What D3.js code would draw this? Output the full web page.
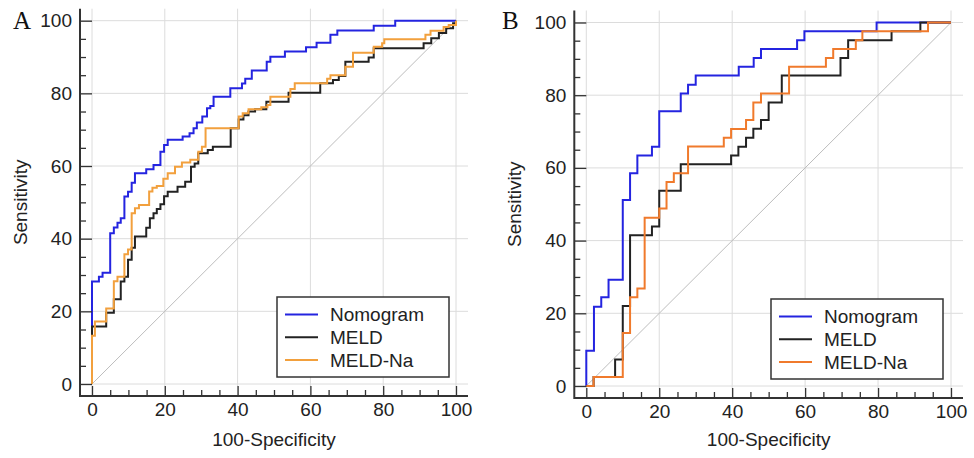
<!DOCTYPE html>
<html>
<head>
<meta charset="utf-8">
<script src="https://cdn.jsdelivr.net/npm/d3@7"></script>
<style>
  body { margin: 0; background: #fff; }
  text { font-family: "Liberation Sans", Arial, sans-serif; fill: #222; }
  text.panel-letter { font-family: "Liberation Serif", "Times New Roman", serif; fill: #111; }
</style>
</head>
<body>
<div id="chart"></div>
<script>
// ROC curves (x = 100-Specificity, y = Sensitivity)
const seriesNames = ["Nomogram", "MELD", "MELD-Na"]
const majorTicks = [0, 20, 40, 60, 80, 100]

// panel A
const aNomoFpr = [0,0,1.9,2.9,5.0,6.0,7.0,7.9,8.9,9.9,10.9,11.8,14.9,16.9,18.8,19.8,20.8,24.9,26.8,27.9,28.8,30.3,31.6,32.5,33.4,38.0,41.2,42.1,43.9,48.0,49.0,53.0,58.8,61.7,65.5,67.4,77.4,83.3,100]
const aNomoTpr = [0,28.2,29.5,30.6,41.5,43.1,44.4,45.6,51.6,52.9,55.4,58.0,59.1,60.3,63.9,65.8,67.2,68.1,69.0,70.4,72.0,73.6,75.9,76.5,79.1,81.4,82.7,84.0,86.3,88.7,90.1,91.5,92.7,93.9,96.1,97.3,98.6,100,100]
const aMeldFpr = [0,0,3.9,6.0,7.9,8.9,9.9,10.9,11.8,14.9,15.9,16.9,17.8,18.8,19.8,20.8,23.5,25.6,27.2,28.2,29.2,31.8,33.2,38.1,40.3,41.6,43.0,44.8,47.9,54.0,62.7,66.2,67.8,69.6,76.0,77.4,91.1,93.2,95.3,97.3,99.2,100]
const aMeldTpr = [0,15.8,19.6,23.3,28.2,29.5,34.2,37.5,40.6,43.0,45.6,47.0,48.2,49.5,51.7,52.9,54.3,55.7,59.8,60.7,63.5,64.4,65.3,70.4,72.8,74.0,75.0,75.6,77.7,80.2,82.8,83.7,84.8,88.7,89.9,92.4,93.8,95.2,96.6,97.9,99.3,100]
const aNaFpr = [0,0,0.8,3.9,6.0,7.0,8.9,9.9,10.9,11.8,12.9,15.7,16.6,17.8,19.6,20.8,22.8,24.7,27.0,29.2,30.2,31.2,40.3,41.4,43.0,46.5,48.2,49.0,54.5,55.7,64.6,65.5,69.6,71.7,77.4,79.7,80.3,91.6,93.0,96.6,98.0,100]
const aNaTpr = [0,13.3,17.2,20.8,28.3,29.5,35.7,37.0,47.0,48.4,49.3,53.0,54.0,54.5,56.5,58.0,59.8,61.0,61.7,63.9,65.3,70.4,73.6,74.5,75.6,76.2,76.8,79.1,81.2,82.8,84.0,85.0,87.3,91.2,92.8,93.8,94.9,96.1,97.2,98.3,98.8,100]

// panel B
const bNomoFpr = [0,0,2.1,4.1,6.1,10.0,12.0,14.0,18.0,20.0,25.9,27.9,30.0,41.8,45.9,47.9,57.8,59.8,79.6,100]
const bNomoTpr = [0,9.7,21.8,24.4,29.2,51.2,58.5,63.4,65.8,75.6,80.5,82.9,85.4,87.8,90.2,92.7,95.1,97.6,100,100]
const bMeldFpr = [0,2.0,7.9,10.0,12.0,18.0,20.0,25.9,39.7,41.7,43.8,45.8,47.9,50.0,53.6,69.7,71.8,83.7,91.6,100]
const bMeldTpr = [0,2.5,7.3,22.0,41.5,43.9,53.7,61.0,63.4,65.8,68.3,70.8,73.2,78.0,85.4,90.2,95.1,97.6,100,100]
const bNaFpr = [0,2.0,10.0,12.0,14.0,16.0,20.0,22.0,24.0,27.9,37.7,39.7,43.8,45.8,47.9,55.6,65.7,67.7,73.9,75.7,93.7,100]
const bNaTpr = [0,2.5,14.6,24.4,26.8,46.3,48.8,56.1,58.5,65.9,68.3,70.7,73.2,78.0,80.5,87.8,90.2,92.7,95.1,97.6,100,100]

const width = 974
const height = 458

const svg = d3.select("#chart")
    .append("svg")
    .attr("width", width)
    .attr("height", height)

function drawPanel(p) {
    const x = d3.scaleLinear().domain([0, 100]).range([p.x0, p.x1])
    const y = d3.scaleLinear().domain([0, 100]).range([p.y0, p.y1])
    const pad = 12
    const left = p.x0 - pad, right = p.x1 + pad
    const top = p.y1 - pad, bottom = p.y0 + pad

    const g = svg.append("g")

    // grid
    g.selectAll(".gv").data(majorTicks).join("line")
        .attr("x1", d => x(d)).attr("x2", d => x(d))
        .attr("y1", top).attr("y2", bottom)
        .attr("stroke", "#dcdcdc").attr("stroke-width", 1)
    g.selectAll(".gh").data(majorTicks).join("line")
        .attr("x1", left).attr("x2", right)
        .attr("y1", d => y(d)).attr("y2", d => y(d))
        .attr("stroke", "#dcdcdc").attr("stroke-width", 1)

    // chance line
    g.append("line")
        .attr("x1", x(0)).attr("y1", y(0))
        .attr("x2", x(100)).attr("y2", y(100))
        .attr("stroke", "#bdbdbd").attr("stroke-width", 1)

    // curves
    const line = d3.line()
        .x(d => x(d[0]))
        .y(d => y(d[1]))
        .curve(d3.curveStepAfter)
    p.series.forEach((s, i) => {
        g.append("path")
            .datum(d3.zip(s.fpr, s.tpr))
            .attr("d", line)
            .attr("fill", "none")
            .attr("stroke", p.colors[i])
            .attr("stroke-width", 2)
    })

    // axes (ticks point inward)
    const minor = d3.range(0, 101, 5).filter(d => d % 20 !== 0)
    const xAxis = g.append("g").attr("transform", "translate(0," + bottom + ")")
    xAxis.call(d3.axisBottom(x).tickValues(majorTicks).tickSize(-10).tickPadding(7))
    xAxis.append("g").call(d3.axisBottom(x).tickValues(minor).tickSize(-6).tickFormat(""))
    const yAxis = g.append("g").attr("transform", "translate(" + left + ",0)")
    yAxis.call(d3.axisLeft(y).tickValues(majorTicks).tickSize(-12).tickPadding(8))
    yAxis.append("g").call(d3.axisLeft(y).tickValues(minor).tickSize(-6).tickFormat(""))
    g.selectAll(".domain").remove()
    g.selectAll(".tick line").attr("stroke", "#333").attr("stroke-width", 1.3)
    g.selectAll(".tick text").attr("font-size", "19px").attr("fill", "#222")

    // axis lines
    g.append("path")
        .attr("d", "M" + left + "," + top + "V" + bottom + "H" + right)
        .attr("fill", "none").attr("stroke", "#333").attr("stroke-width", 2)

    // titles
    g.append("text")
        .attr("x", (x(0) + x(100)) / 2).attr("y", 446)
        .attr("text-anchor", "middle").attr("font-size", "19px")
        .text("100-Specificity")
    g.append("text")
        .attr("transform", "translate(" + p.ylabX + "," + (y(0) + y(100)) / 2 + ") rotate(-90)")
        .attr("text-anchor", "middle").attr("font-size", "19px")
        .text("Sensitivity")
    g.append("text")
        .attr("class", "panel-letter")
        .attr("x", p.letterX).attr("y", 29)
        .attr("font-size", "25px")
        .text(p.letter)

    // legend
    const lg = g.append("g").attr("transform", "translate(" + p.legX + "," + p.legY + ")")
    lg.append("rect")
        .attr("width", 172).attr("height", 80)
        .attr("fill", "#fff").attr("stroke", "#333").attr("stroke-width", 1.5)
    seriesNames.forEach((name, i) => {
        const ry = 17.5 + i * 22.7
        lg.append("line")
            .attr("x1", 8).attr("x2", 41).attr("y1", ry).attr("y2", ry)
            .attr("stroke", p.colors[i]).attr("stroke-width", 2)
        lg.append("text")
            .attr("x", 53).attr("y", ry).attr("dy", "0.36em")
            .attr("font-size", "19px")
            .text(name)
    })
}

drawPanel({
    letter: "A", letterX: 13, ylabX: 27,
    x0: 92, x1: 456, y0: 384, y1: 20.7,
    legX: 277, legY: 297,
    colors: ["#2424e0", "#222222", "#f2a03d"],
    series: [
        {fpr: aNomoFpr, tpr: aNomoTpr},
        {fpr: aMeldFpr, tpr: aMeldTpr},
        {fpr: aNaFpr, tpr: aNaTpr}
    ]
})

drawPanel({
    letter: "B", letterX: 502, ylabX: 521,
    x0: 586.3, x1: 951, y0: 386, y1: 22.5,
    legX: 771, legY: 299,
    colors: ["#2424e0", "#222222", "#f07a2c"],
    series: [
        {fpr: bNomoFpr, tpr: bNomoTpr},
        {fpr: bMeldFpr, tpr: bMeldTpr},
        {fpr: bNaFpr, tpr: bNaTpr}
    ]
})
</script>
</body>
</html>
